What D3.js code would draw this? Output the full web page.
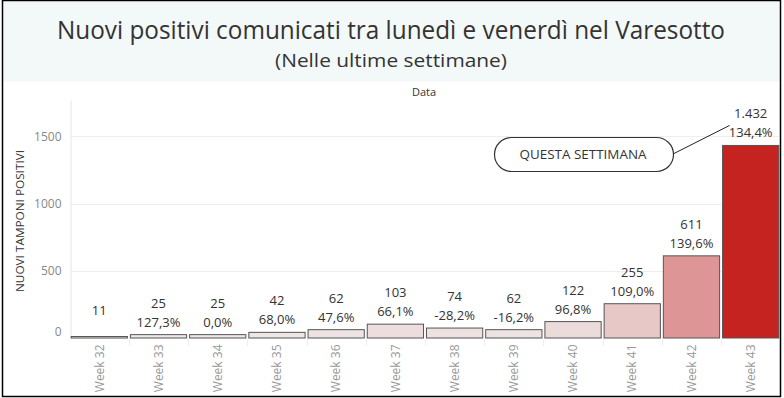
<!DOCTYPE html>
<html>
<head>
<meta charset="utf-8">
<script src="https://cdn.jsdelivr.net/npm/d3@7"></script>
<style>
  html, body { margin: 0; padding: 0; background: #fff; }
  svg { display: block; font-family: 'Open Sans', sans-serif; }
</style>
</head>
<body>
<svg width="784" height="398"></svg>
<script>
'use strict';

/* Data. */
var weeks = ['Week 32', 'Week 33', 'Week 34', 'Week 35', 'Week 36', 'Week 37',
  'Week 38', 'Week 39', 'Week 40', 'Week 41', 'Week 42', 'Week 43'];
var positives = [11, 25, 25, 42, 62, 103, 74, 62, 122, 255, 611, 1432];
var changes = [null, '127,3%', '0,0%', '68,0%', '47,6%', '66,1%', '-28,2%',
  '-16,2%', '96,8%', '109,0%', '139,6%', '134,4%'];
var yTicks = [0, 500, 1000, 1500];

var data = weeks.map(function (w, i) {
  return {week: w, value: positives[i], change: changes[i]};
});

var svg = d3.select('svg');

/* Frame and title band. */
svg.append('rect')
  .attr('x', 3.5).attr('y', 1.5).attr('width', 776).attr('height', 80)
  .attr('fill', '#f3f8f8');

/* Condensed look of the original font: squeeze to measured widths. */
svg.append('text')
  .attr('x', 391).attr('y', 39)
  .attr('text-anchor', 'middle')
  .attr('font-size', 25)
  .attr('fill', '#333')
  .attr('textLength', 668)
  .attr('lengthAdjust', 'spacingAndGlyphs')
  .text('Nuovi positivi comunicati tra lunedì e venerdì nel Varesotto');

svg.append('text')
  .attr('x', 391).attr('y', 67)
  .attr('text-anchor', 'middle')
  .attr('font-size', 19)
  .attr('fill', '#333')
  .attr('textLength', 232)
  .attr('lengthAdjust', 'spacingAndGlyphs')
  .text('(Nelle ultime settimane)');

svg.append('text')
  .attr('x', 424).attr('y', 96)
  .attr('text-anchor', 'middle')
  .attr('font-size', 11)
  .attr('fill', '#333')
  .text('Data');

/* Scales. */
var x = d3.scaleBand().domain(weeks).range([70, 780]).paddingInner(0.05).paddingOuter(0.02);
var y = d3.scaleLinear().domain([0, 1770]).range([338, 100]);
var color = d3.scaleLinear()
  .domain([0, 1432])
  .range(['#f0ecec', '#c4231f']);

/* Gridlines. */
svg.append('g')
  .selectAll('line')
  .data(yTicks.slice(1))
  .enter()
  .append('line')
  .attr('x1', 71).attr('x2', 779)
  .attr('y1', function (d) { return Math.round(y(d)) + 0.5; })
  .attr('y2', function (d) { return Math.round(y(d)) + 0.5; })
  .attr('stroke', '#eeeeee');

/* Y axis. */
var yAxis = svg.append('g')
  .attr('transform', 'translate(70.5,0)')
  .call(d3.axisLeft(y).tickValues(yTicks).tickFormat(d3.format('d')).tickSize(0).tickPadding(9));
yAxis.select('.domain').attr('stroke', '#e6e6e6');
yAxis.selectAll('text')
  .attr('font-family', "'Open Sans', sans-serif")
  .attr('font-size', 12)
  .attr('fill', '#888')
  .attr('dy', function (d) { return d === 0 ? '-0.25em' : '0.32em'; });

svg.append('text')
  .attr('transform', 'translate(24,221) rotate(-90)')
  .attr('text-anchor', 'middle')
  .attr('font-size', 11.5)
  .attr('fill', '#333')
  .attr('textLength', 142)
  .attr('lengthAdjust', 'spacingAndGlyphs')
  .text('NUOVI TAMPONI POSITIVI');

/* X axis. */
var xAxis = svg.append('g')
  .attr('transform', 'translate(0,338.5)')
  .call(d3.axisBottom(x).tickSize(0).tickPadding(6));
xAxis.select('.domain').remove();
xAxis.selectAll('text')
  .attr('font-family', "'Open Sans', sans-serif")
  .attr('font-size', 12)
  .attr('fill', '#999')
  .attr('text-anchor', 'end')
  .attr('transform', 'rotate(-90)')
  .attr('x', -6)
  .attr('y', 0)
  .attr('dy', '0.35em');

/* Separators between bands below the axis. */
svg.append('g')
  .selectAll('line')
  .data(weeks.slice(1))
  .enter()
  .append('line')
  .attr('x1', function (d) { return Math.round(x(d) - x.step() * x.paddingInner() / 2) + 0.5; })
  .attr('x2', function (d) { return Math.round(x(d) - x.step() * x.paddingInner() / 2) + 0.5; })
  .attr('y1', 339).attr('y2', 346)
  .attr('stroke', '#eeeeee');

/* Bars. */
svg.append('g')
  .selectAll('rect')
  .data(data)
  .enter()
  .append('rect')
  .attr('x', function (d) { return x(d.week); })
  .attr('y', function (d) { return y(d.value); })
  .attr('width', x.bandwidth())
  .attr('height', function (d) { return y(0) - y(d.value); })
  .attr('fill', function (d) { return color(d.value); })
  .attr('stroke', '#555')
  .attr('stroke-width', 1);

/* Value labels. */
var fmt = d3.formatLocale({decimal: ',', thousands: '.', grouping: [3], currency: ['', '€']}).format(',d');
var labels = svg.append('g')
  .selectAll('g')
  .data(data)
  .enter()
  .append('g')
  .attr('transform', function (d) {
    return 'translate(' + (x(d.week) + x.bandwidth() / 2) + ',' + y(d.value) + ')';
  })
  .attr('text-anchor', 'middle')
  .attr('font-size', 13)
  .attr('fill', '#333');

labels.append('text')
  .attr('y', function (d) { return d.change ? -27 : -22; })
  .text(function (d) { return fmt(d.value); });

labels.append('text')
  .attr('y', -8)
  .text(function (d) { return d.change || ''; });

/* Callout. */
var last = data[data.length - 1];
svg.append('line')
  .attr('x1', 673).attr('y1', 154)
  .attr('x2', x(last.week) + 7).attr('y2', y(last.value) - 20)
  .attr('stroke', '#222');

svg.append('rect')
  .attr('x', 494.5).attr('y', 137.5).attr('width', 179).attr('height', 34)
  .attr('rx', 17).attr('ry', 17)
  .attr('fill', '#fff')
  .attr('stroke', '#333')
  .attr('stroke-width', 1.2);

svg.append('text')
  .attr('x', 583).attr('y', 159)
  .attr('text-anchor', 'middle')
  .attr('font-size', 12.5)
  .attr('fill', '#333')
  .attr('textLength', 127)
  .attr('lengthAdjust', 'spacingAndGlyphs')
  .text('QUESTA SETTIMANA');

/* Outer frame. */
svg.append('rect')
  .attr('x', 2.5).attr('y', 0.5).attr('width', 778).attr('height', 396)
  .attr('fill', 'none')
  .attr('stroke', '#000')
  .attr('stroke-width', 1.5);
</script>
</body>
</html>
